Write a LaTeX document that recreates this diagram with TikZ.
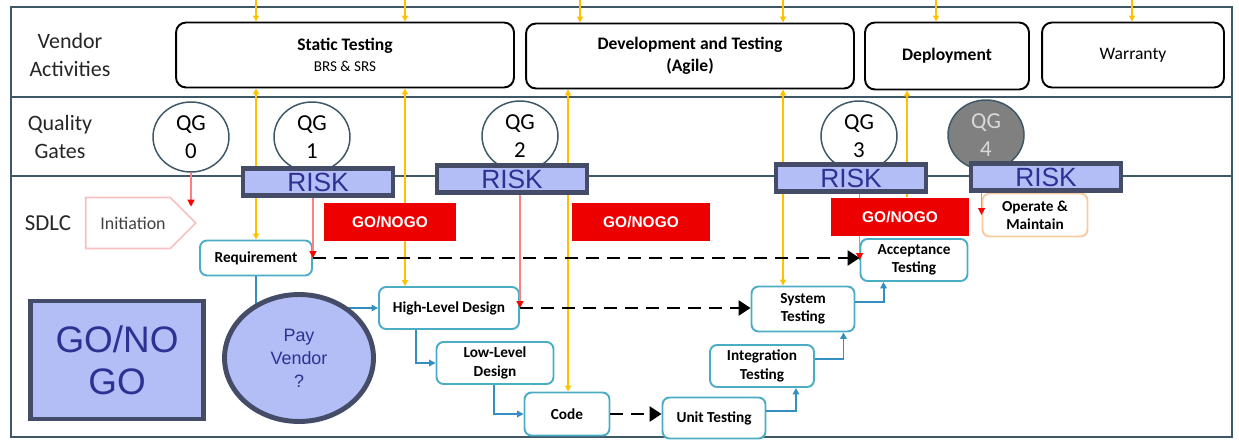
\documentclass[tikz,border=0pt]{standalone}
\usepackage{fontspec}
\setmainfont{Carlito}
\newfontfamily\arialfont{Liberation Sans}
\usepackage{tikz}
\usetikzlibrary{arrows.meta}
\usetikzlibrary{calc}
\usetikzlibrary{shapes.geometric, shapes.symbols}
\pgfdeclarelayer{front}
\pgfsetlayers{main,front}
\definecolor{framecol}{RGB}{62,88,104}
\definecolor{slate}{RGB}{69,76,104}
\definecolor{riskfill}{RGB}{178,190,245}
\definecolor{riskink}{RGB}{46,49,146}
\definecolor{nogored}{RGB}{236,0,0}
\definecolor{phaseline}{RGB}{75,172,198}
\definecolor{flowblue}{RGB}{52,143,192}
\definecolor{goldline}{RGB}{255,192,0}
\definecolor{alarmline}{RGB}{255,128,128}
\definecolor{pinkline}{RGB}{248,192,192}
\definecolor{peach}{RGB}{250,202,160}
\definecolor{gatefill}{RGB}{128,128,128}

\begin{document}
\begin{tikzpicture}[x=0.02cm, y=-0.02cm,
			every node/.style={inner sep=0pt, align=center},
			rowlabel/.style={font=\fontsize{12.5}{16}\selectfont, text=black!85},
			vbox/.style={draw, line width=1.1pt, rounded corners=0.2cm, fill=white, minimum height=1.3cm, font=\fontsize{10}{12}\selectfont},
			gate/.style={ellipse, draw=framecol, line width=0.85pt, fill=white, minimum width=1.52cm, minimum height=1.4cm, font=\fontsize{13}{16}\selectfont},
			risk/.style={draw=slate, line width=2.8pt, fill=riskfill, minimum width=3.0cm, minimum height=0.54cm, text=riskink, font=\arialfont\fontsize{15}{15}\selectfont},
			nogo/.style={fill=nogored, text=white, minimum height=0.78cm, font=\arialfont\bfseries\fontsize{8.8}{10}\selectfont},
			phase/.style={draw=phaseline, line width=1.1pt, rounded corners=0.14cm, fill=white, minimum height=0.84cm, font=\bfseries\fontsize{8.7}{10.4}\selectfont},
			gold/.style={draw=goldline, line width=0.8pt, >={Triangle[length=0.12cm, width=0.12cm]}},
			alarm/.style={draw=alarmline, line width=0.8pt, -{Triangle[length=0.14cm, width=0.14cm, color=red]}},
			flow/.style={draw=flowblue, line width=1.1pt, -{Triangle[length=0.13cm, width=0.13cm]}},
			trace/.style={line width=1.5pt, dash pattern=on 0.26cm off 0.16cm, -{Triangle[length=0.24cm, width=0.3cm]}}
		]
		\useasboundingbox (0,0) rectangle (1239,442);

		% swim lanes
		\draw[framecol, line width=1.2pt] (11,7) rectangle (1232,437);
		\draw[framecol, line width=1.2pt] (11,97) -- (1232,97) (11,176) -- (1232,176);

		\node[rowlabel] (vendorlbl) at (70,55) {Vendor\\Activities};
		\node[rowlabel] (gatelbl) at (60,137) {Quality\\Gates};
		\node[rowlabel, font=\fontsize{13}{16}\selectfont] (sdlclbl) at (48,223) {SDLC};

		\node[vbox, minimum width=6.76cm] (stat) at (345,55) {\textbf{Static Testing}\\{\fontsize{8.6}{10}\selectfont BRS \& SRS}};
		\node[vbox, minimum width=6.56cm, font=\bfseries\fontsize{10}{12.5}\selectfont] (dev) at (690,56) {Development and Testing\\(Agile)};
		\node[vbox, minimum width=3.28cm, minimum height=1.34cm, font=\bfseries\fontsize{10}{12}\selectfont] (depl) at (947,56) {Deployment};
		\node[vbox, minimum width=3.64cm] (warr) at (1133,55) {Warranty};

		\node[gate] (qg0) at (191,137) {QG\\0};
		\node[gate] (qg1) at (312,137) {QG\\1};
		\node[gate] (qg2) at (520,136) {QG\\2};
		\node[gate] (qg3) at (859,136) {QG\\3};
		\node[gate, fill=gatefill, text=black!15] (qg4) at (986,135) {QG\\4};

		\node[signal, signal to=east, draw=pinkline, line width=0.9pt, minimum width=2.2cm, minimum height=1.02cm, font=\fontsize{10.2}{12}\selectfont, text=black!75] (init) at (128,223) {\hspace*{0.2cm}Initiation};

		\node[phase, minimum width=2.24cm, minimum height=0.7cm] (req) at (256,258) {Requirement};
		\node[phase, minimum width=2.8cm] (hld) at (449,308) {High-Level Design};
		\node[phase, minimum width=2.34cm] (lld) at (495,363) {Low-Level\\Design};
		\node[phase, minimum width=1.7cm, minimum height=0.86cm] (code) at (567,414) {Code};
		\node[phase, minimum width=2.06cm, minimum height=0.82cm] (unit) at (714,418) {Unit Testing};
		\node[phase, minimum width=2.08cm] (integ) at (762,366) {Integration\\Testing};
		\node[phase, minimum width=2.06cm, minimum height=0.9cm] (sys) at (803,309) {System\\Testing};
		\node[phase, minimum width=2.14cm] (acc) at (914,260) {Acceptance\\Testing};
		\node[phase, draw=peach, minimum width=2.1cm, minimum height=0.86cm] (op) at (1035,215) {Operate \&\\Maintain};

		\node[draw=slate, line width=2.8pt, fill=riskfill, minimum width=3.46cm, minimum height=2.36cm, text=riskink, font=\arialfont\fontsize{21}{24}\selectfont] (verdict) at (117,360) {GO/NO\\GO};

		\begin{pgfonlayer}{front}
			\node[risk] (risk1) at (318,182) {RISK};
			\node[risk] (risk2) at (512,179) {RISK};
			\node[risk] (risk3) at (851,178) {RISK};
			\node[risk] (risk4) at (1046,177) {RISK};

			\node[nogo, minimum width=2.64cm] (go1) at (390,222) {GO/NOGO};
			\node[nogo, minimum width=2.76cm] (go2) at (641,222) {GO/NOGO};
			\node[nogo, minimum width=2.76cm] (go3) at (900,217) {GO/NOGO};

			\node[ellipse, draw=slate, line width=2.8pt, fill=riskfill, minimum width=2.98cm, minimum height=2.54cm, text=riskink, font=\arialfont\fontsize{10.2}{13}\selectfont] (pay) at (299,358) {Pay\\Vendor\\?};
		\end{pgfonlayer}

		% vendor hand-offs
		\coordinate (ya) at (256,0);
		\coordinate (yb) at (405,0);
		\coordinate (yc) at (580,0);
		\coordinate (yd) at (568,0);
		\coordinate (ye) at (783,0);
		\coordinate (yf) at (936,0);
		\coordinate (yg) at (907,0);
		\coordinate (yh) at (1132,0);

		\draw[gold, ->] (ya) -- (ya |- stat.north);
		\draw[gold, ->] (yb) -- (yb |- stat.north);
		\draw[gold, ->] (yc) -- (yc |- dev.north);
		\draw[gold, ->] (ye) -- (ye |- dev.north);
		\draw[gold, ->] (yf) -- (yf |- depl.north);
		\draw[gold, ->] (yh) -- (yh |- warr.north);
		\draw[gold, <->] (ya |- stat.south) -- (req.north);
		\draw[gold, <->] (yb |- stat.south) -- (yb |- hld.north);
		\draw[gold, <->] (yd |- dev.south) -- (yd |- code.north);
		\draw[gold, <->] (ye |- dev.south) -- (ye |- sys.north);
		\draw[gold, <-] (yg |- depl.south) -- (yg |- go3.north);

		% gate signals
		\draw[alarm] (qg0.south) -- ($(qg0.south |- init.north)+(0,10)$);
		\draw[alarm] (risk1.south -| req.east) -- (req.east);
		\draw[alarm] (risk2.south -| hld.east) -- (hld.east);
		\draw[alarm] (risk3.south -| acc.west) -- (acc.west);
		\draw[alarm] (risk4.south -| op.west) -- (op.west);

		\draw[flow] (req.south) |- (hld.west);
		\draw[flow] ($(hld.south west)+(38,0)$) |- (lld.west);
		\draw[flow] ($(lld.south west)+(58,0)$) |- (code.west);
		\draw[flow] ($(unit.east)+(0,-7)$) -| ($(integ.south east)+(-19,0)$);
		\draw[flow] ($(integ.east)+(0,-7)$) -| ($(sys.south east)+(-12,0)$);
		\draw[flow] ($(sys.east)+(0,-7)$) -| ($(acc.south west)+(24,0)$);

		\draw[trace] (req.east) -- (req.east -| acc.west);
		\draw[trace] (hld.east) -- (hld.east -| sys.west);
		\draw[trace] (code.east) -- (code.east -| unit.west);
	\end{tikzpicture}
\end{document}
